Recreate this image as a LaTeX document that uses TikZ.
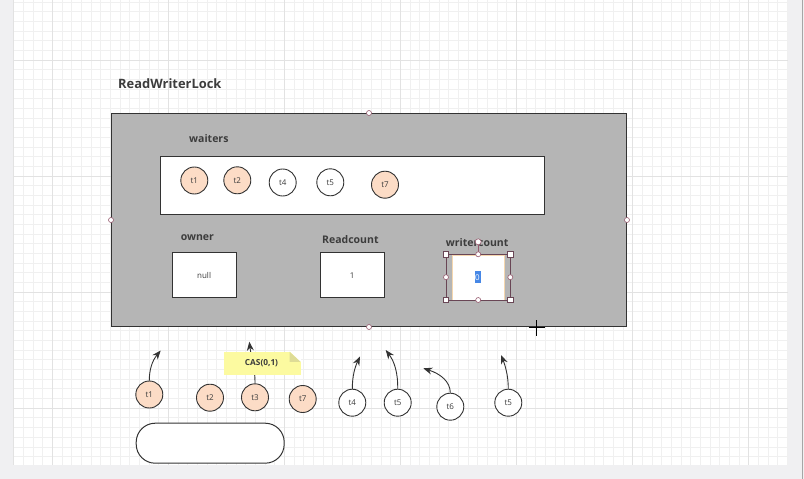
\documentclass[tikz,border=0pt]{standalone}
\usepackage{fontspec}
\setmainfont{Open Sans}
\usetikzlibrary{arrows.meta}
\definecolor{lockgray}{RGB}{181,181,181}
\definecolor{peach}{RGB}{252,220,198}
\definecolor{edge}{RGB}{51,51,51}
\definecolor{txt}{RGB}{60,60,60}
\definecolor{gridminor}{RGB}{240,240,240}
\definecolor{gridmajor}{RGB}{226,226,226}
\definecolor{side}{RGB}{240,240,242}
\definecolor{notey}{RGB}{252,250,160}
\definecolor{notefold}{RGB}{222,220,150}
\definecolor{handle}{RGB}{150,90,110}
\definecolor{selbox}{RGB}{105,70,85}
\definecolor{innerb}{RGB}{245,215,175}
\definecolor{selblue}{RGB}{70,135,230}
\tikzset{
  thread/.style={circle, draw=edge, line width=0.9pt, minimum size=27pt, inner sep=0pt, font=\fontsize{8}{9}\selectfont, text=txt},
  fieldbox/.style={draw=edge, line width=1pt, fill=white, minimum width=64pt, minimum height=45pt, inner sep=0pt, anchor=north west, font=\fontsize{8}{9}\selectfont, text=txt},
  lbl/.style={font=\bfseries\fontsize{10.5}{12}\selectfont, text=txt, inner sep=0pt},
  hcirc/.style={circle, draw=handle, fill=white, line width=0.6pt, minimum size=5pt, inner sep=0pt},
  hsq/.style={rectangle, draw=selbox, fill=white, line width=0.6pt, minimum size=5.5pt, inner sep=0pt},
  curarrow/.style={draw=edge, line width=0.9pt, -{Stealth[length=9pt,width=7pt]}},
}
\begin{document}
\begin{tikzpicture}[x=1pt,y=-1pt]
\useasboundingbox (0,0) rectangle (804,479);
\fill[white] (0,0) rectangle (804,479);
% grid
\foreach \i in {0,...,80} {
  \pgfmathsetmacro\xx{13.6+9.67*\i}
  \draw[gridminor, line width=0.6pt] (\xx,0) -- (\xx,465);
}
\foreach \i in {0,...,47} {
  \pgfmathsetmacro\yy{1.98+9.67*\i}
  \draw[gridminor, line width=0.6pt] (13,\yy) -- (788,\yy);
}
\foreach \xx in {52.3,168.3,284.3,400.3,516.3,632.3,748.3}
  \draw[gridmajor, line width=0.8pt] (\xx,0) -- (\xx,465);
\foreach \yy in {60,176,292,408}
  \draw[gridmajor, line width=0.8pt] (13,\yy) -- (788,\yy);
% side strips
\fill[side] (0,0) rectangle (13,479);
\draw[gridmajor] (13,0) -- (13,465);
\fill[side] (788,0) rectangle (804,479);
\fill[side] (0,465) rectangle (804,479);
\draw[gray!70, line width=1pt] (802,0) -- (802,479);

% title
\node[font=\bfseries\fontsize{12.9}{15}\selectfont, text=txt, anchor=west, inner sep=0pt] (title) at (118,83.5) {ReadWriterLock};

% lock body
\node[draw=edge, fill=lockgray, line width=1pt, minimum width=515pt, minimum height=213pt, inner sep=0pt, anchor=north west] (lock) at (111,113) {};
\node[hcirc] (hn) at (lock.north) {};
\node[hcirc] (hs) at (lock.south) {};
\node[hcirc] (hw) at (lock.west) {};
\node[hcirc] (he) at (lock.east) {};

% waiters
\node[lbl, anchor=west] (waitlbl) at (189,139) {waiters};
\node[draw=edge, fill=white, line width=1pt, minimum width=384pt, minimum height=58pt, inner sep=0pt, anchor=north west] (queue) at (160,155.5) {};
\node[thread, fill=peach] (w1) at (194.3,180.5) {t1};
\node[thread, fill=peach] (w2) at (237.3,180.3) {t2};
\node[thread, fill=white] (w4) at (282.7,182.5) {t4};
\node[thread, fill=white] (w5) at (330.3,182.3) {t5};
\node[thread, fill=peach] (w7) at (385,184.7) {t7};

% fields
\node[lbl, anchor=west] (ownlbl) at (180.6,237.5) {owner};
\node[fieldbox] (owner) at (171.6,252.3) {null};
\node[lbl, anchor=west] (rclbl) at (322,239.5) {Readcount};
\node[fieldbox] (rc) at (319.7,252.3) {1};
\node[lbl, anchor=west] (wclbl) at (445.7,242.5) {writercount};
\node[draw=innerb, fill=white, line width=1pt, minimum width=52pt, minimum height=45pt, inner sep=0pt, anchor=north west] (wc) at (452,255) {};
\node[fill=selblue, minimum width=6pt, minimum height=12.5pt, inner sep=0pt] (wcsel) at (477.5,277) {};
\node[text=white, font=\fontsize{8}{9}\selectfont, inner sep=0pt] (wcval) at (477.5,277.3) {0};
% selection frame
\coordinate (s1) at (446,254.3);
\coordinate (s2) at (510.3,300);
\draw[selbox, line width=0.8pt] (s1) rectangle (s2);
\coordinate (rot) at (478.2,241.8);
\draw[handle, line width=0.8pt] (rot) -- (478.2,254.3);
\node[hcirc, minimum size=6pt] (hrot) at (rot) {};
\node[hsq] (c1) at (446,254.3) {};
\node[hsq] (c2) at (510.3,254.3) {};
\node[hsq] (c3) at (446,300) {};
\node[hsq] (c4) at (510.3,300) {};
\node[hcirc] (m1) at (478.2,254.3) {};
\node[hcirc] (m2) at (478.2,300) {};
\node[hcirc] (m3) at (446,277.2) {};
\node[hcirc] (m4) at (510.3,277.2) {};

% cursor
\coordinate (cur) at (536.5,327.5);
\draw[black, line width=1pt] ([xshift=-8pt]cur) -- ([xshift=8pt]cur);
\draw[black, line width=1pt] ([yshift=-8pt]cur) -- ([yshift=8pt]cur);

% lower threads
\node[thread, fill=peach] (b1) at (149.3,394.5) {t1};
\node[thread, fill=peach] (b2) at (210,397.7) {t2};
\node[thread, fill=peach] (b3) at (255,397.3) {t3};
\node[thread, fill=peach] (b7) at (302.7,399) {t7};
\node[thread, fill=white] (b4) at (352.3,402.7) {t4};
\node[thread, fill=white] (b5) at (397.7,402.7) {t5};
\node[thread, fill=white] (b6) at (450.3,406.7) {t6};
\node[thread, fill=white] (b8) at (508.3,402.7) {t5};

% arrow ends
\coordinate (e1) at (160.7,350.5);
\coordinate (e3) at (249.3,341.7);
\coordinate (e4) at (360,356.5);
\coordinate (e5) at (385.7,350);
\coordinate (e6) at (423.3,368.3);
\coordinate (e8) at (501,355);

\draw[curarrow] (b1.north) .. controls (149.3,370) and (152,361) .. (e1);
\draw[curarrow] (b3.north) .. controls (255,366) and (251,356) .. (e3);
\draw[curarrow] (b4.north) .. controls (352.3,376) and (355,367) .. (e4);
\draw[curarrow] (b5.north) .. controls (398,372) and (394,361) .. (e5);
\draw[curarrow] (b6.north) .. controls (450.3,382) and (441,374) .. (e6);
\draw[curarrow] (b8.north) .. controls (508.3,375) and (505,365) .. (e8);

% note
\node[fill=notey, minimum width=77pt, minimum height=22.6pt, inner sep=0pt, anchor=north west] (note) at (223.5,351.7) {};
\node[font=\bfseries\fontsize{8.3}{9}\selectfont, text=txt, inner sep=0pt] (notetxt) at (261.5,363.5) {CAS(0,1)};
\fill[white] (289.5,351.2) -- (300.8,351.2) -- (300.8,362) -- cycle;
\fill[notefold] (289.5,351.7) -- (300.5,361.8) -- (289.5,361.8) -- cycle;

% rounded box
\node[draw=edge, fill=white, line width=1pt, rounded corners=19pt, minimum width=148pt, minimum height=40pt, inner sep=0pt, anchor=north west] (rbox) at (135.7,422.7) {};
\end{tikzpicture}
\end{document}
